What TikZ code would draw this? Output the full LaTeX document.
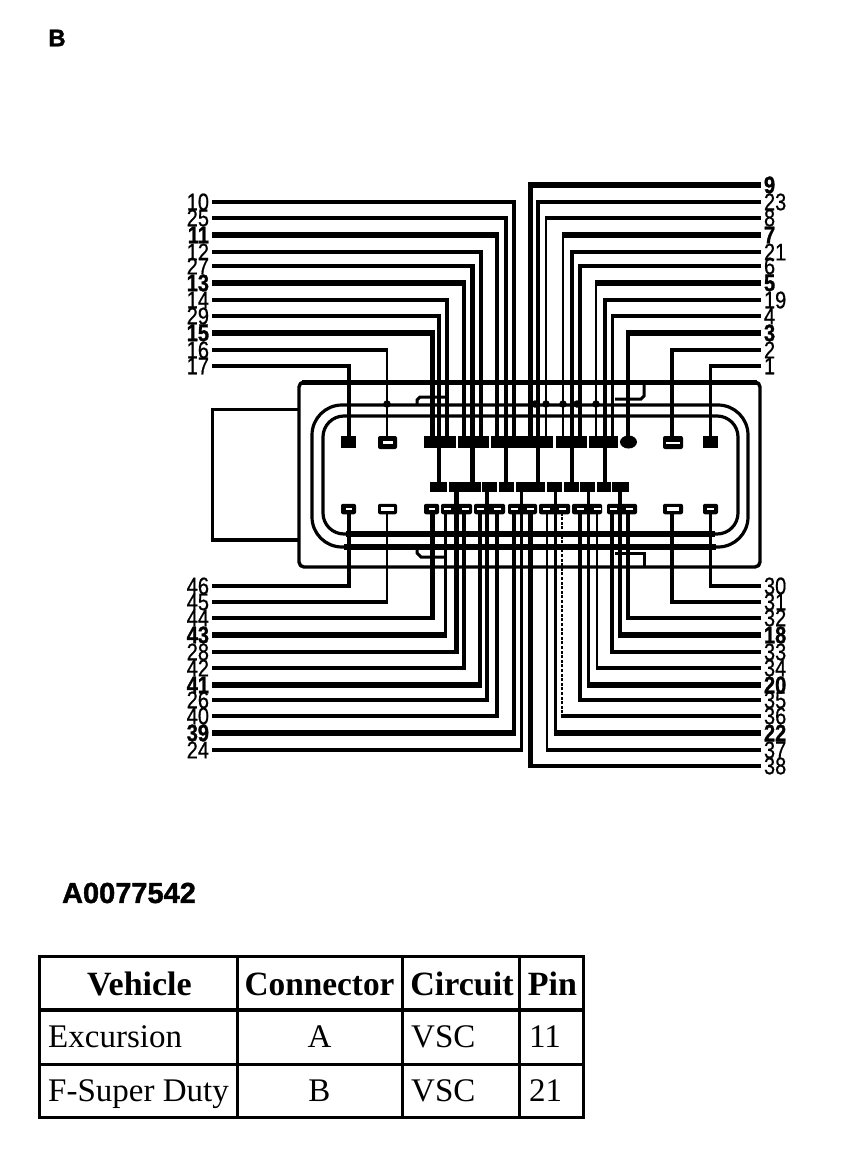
\documentclass[tikz,border=0pt]{standalone}
\usepackage{fontspec}
\setmainfont{Liberation Serif}
\newfontfamily\labfont[FakeBold=0.7]{Liberation Sans}
\newfontfamily\labheavy[FakeBold=1.4]{Liberation Sans Bold}
\usetikzlibrary{calc,shapes.geometric}
\tikzset{
  pinlab/.style={inner sep=0pt,outer sep=3pt,font=\labfont\fontsize{20}{20}\selectfont},
  block/.style={fill=black,draw=none,inner sep=0pt,outer sep=0pt,rectangle},
  roundblock/.style={block,rounded corners=2pt},
  oval/.style={fill=black,draw=none,inner sep=0pt,outer sep=0pt,ellipse},
  shell/.style={line width=3.4pt,line join=round},
  seal/.style={line width=3.2pt},
  latch/.style={line width=3pt},
  grid/.style={line width=3pt,line cap=rect},
  cellhead/.style={inner sep=0pt,anchor=base,font=\fontsize{34}{34}\selectfont\bfseries},
  cellbody/.style={inner sep=0pt,anchor=base,font=\fontsize{33}{33}\selectfont},
  title/.style={inner sep=0pt},
  vwire/.style={},
  dottedwire/.style={dash pattern=on 3pt off 1.6pt}
}
% name, label y, wire x, end y, horizontal width, vertical width, x side, y side
\newcommand\pinwire[8]{%
  \ifnum#7>0 \def\labx{212}\def\laba{east}\else \def\labx{761}\def\laba{west}\fi
  \node[pinlab,anchor=\laba] (l#1) at (\labx,#2) {\ifnum#5>4 \labheavy\fontsize{20}{20}\selectfont\fi\scalebox{1}[1.2]{#1}};
  \coordinate (p#1) at (#3,#4);
  \coordinate (c#1) at (#3,#2);
  \draw[line width=#5pt] (l#1.\laba) -- ($(c#1)+({#7*#6/2},0)$);
  \draw[line width=#6pt,vwire] ($(c#1)+(0,{#8*#5/2})$) -- (p#1);
}
\begin{document}
\begin{tikzpicture}[x=1pt,y=-1pt]
\useasboundingbox (0,0) rectangle (864,1170);
\node[title,font=\labheavy\fontsize{24}{24}\selectfont] (sheet) at (57,38) {B};
\node[title,font=\labheavy\fontsize{29}{29}\selectfont] (code) at (129,893) {A0077542};

% connector body
\draw[shell,rounded corners=5pt] (299,382) rectangle (760,567);
\draw[line width=5pt] (302,382) -- (757,382);
\draw[line width=3pt] (299,409) -- (212,409) -- (212,540);
\draw[line width=4pt] (210.5,540) -- (299,540);
% seals
\draw[seal,rounded corners=30pt] (312,405) rectangle (748,547);
\draw[seal,rounded corners=21pt] (323,416) rectangle (738,534);
\draw[line width=5.5pt] (344,547) -- (716,547);
\draw[line width=6pt] (346,534) -- (715,534);
% latches
\draw[latch] (417,405) -- (417,400) -- (420,397) -- (446,397);
\draw[latch] (615,399) -- (641,399) -- (644,396) -- (644,384);
\draw[latch] (417,547) -- (417,553) -- (421,557) -- (446,557);
\draw[latch] (615,553) -- (644,553) -- (644,567);

% wires above the connector
\foreach \n/\y/\x/\e/\h/\v in {10/202/514/442/4/4,25/218/506/487/4/4,11/235/497/442/6/4,12/252/480.7/442/4/4,27/266/472/487/4/5,13/283/464/442/6/4,14/300/446.7/442/4/4,29/316/438.7/487/4/4,15/333/432/442/6/5,16/350/387/442/4/2.5,17/366/349/442/4/4}
  {\pinwire{\n}{\y}{\x}{\e}{\h}{\v}{1}{-1}}
\foreach \n/\y/\x/\e/\h/\v in {9/185/530/442/6/5,23/202/538/487/4/4,8/218/546/442/4/2,7/235/563/442/6/2,21/252/572/487/4/4,6/266/580/442/4/4,5/283/596/442/6/2,19/300/605/487/4/4,4/316/612/442/4/3,3/333/628/442/6/4,2/350/672/442/4/4,1/366/710/442/4/3}
  {\pinwire{\n}{\y}{\x}{\e}{\h}{\v}{-1}{-1}}
% wires below the connector
\foreach \n/\y/\x/\e/\h/\v in {46/586/349/509/4/4,45/602/387/509/4/2.5,44/618/432/509/4/5,43/635/445/509/6/3,28/652/456/487/4/5,42/668/464/509/4/4,41/685/480/509/6/4,26/700/487/487/4/4,40/716/497/509/4/4,39/733/514/509/6/4,24/750/521/487/4/3}
  {\pinwire{\n}{\y}{\x}{\e}{\h}{\v}{1}{1}}
\foreach \n/\y/\x/\e/\h/\v in {30/586/710/509/4/3,31/602/672/509/4/4,32/618/628/509/4/4,18/635/620/487/6/4,33/652/612/509/4/4,34/668/597/509/4/2,20/685/588/487/6/3,35/700/580/509/4/4,22/733/555/487/6/3,37/750/546.7/509/4/2,38/766/530/509/4/5}
  {\pinwire{\n}{\y}{\x}{\e}{\h}{\v}{-1}{1}}
\begin{scope}[vwire/.style={dottedwire}]
\pinwire{36}{716}{562}{509}{4}{2.2}{-1}{1}
\end{scope}

% junction dots on the inner seal line
\foreach \i/\x in {a/387,b/535,c/546,d/563,e/577,f/596}
  \node[oval,minimum width=7.5pt,minimum height=7.5pt] (dot\i) at (\x,404) {};

% row 1 of pins
\foreach \i/\x/\w in {a/348.5/15,b/440/32,c/473.5/31,d/522/62,e/571.5/31,f/603.5/29,g/710.5/15}
  \node[block,minimum width=\w pt,minimum height=12pt] (top\i) at (\x,442) {};
\node[roundblock,minimum width=19pt,minimum height=13pt] (toph) at (387.5,442.5) {};
\node[roundblock,minimum width=20pt,minimum height=13pt] (topi) at (673,442.5) {};
\node[oval,minimum width=17pt,minimum height=13pt] (topj) at (628.5,442) {};
% row 2 of pins
\foreach \i/\x/\w in {a/438.5/17,b/465/32,c/489.5/15,d/506.5/15,e/523/14,f/537.5/15,g/554.5/15,h/571.5/15,i/587.5/15,j/604/14,k/620.5/17}
  \node[block,minimum width=\w pt,minimum height=10pt] (mid\i) at (\x,487) {};
% row 3 of pins
\foreach \i/\x/\w in {a/348.5/15,b/387.5/19,c/431.5/15,d/456.5/31,e/489.5/31,f/522.5/29,g/554.5/31,h/587/30,i/622/30,j/673/20,k/710.5/15}
  \node[roundblock,minimum width=\w pt,minimum height=10.5pt] (low\i) at (\x,509) {};

% slits of the open pins
\foreach \x/\y/\w/\t in {387.5/442.5/10/2.5,673/443/14/2.5,348.5/508.5/6/2,387.5/509/13/4.5,431.5/508.5/6/2,447/508.5/7/2,465/508.5/7/2,480/508.5/7/2,497/508.5/7/2,514/508.5/7/2,530/508.5/7/2,546/508.5/7/2,562/508.5/7/2,580/508.5/7/2,597/508.5/7/2,613/508.5/7/2,629/508.5/7/2,673/509/12/4,710.5/508.5/7/2}
  \fill[white] ({\x-\w/2},{\y-\t/2}) rectangle ({\x+\w/2},{\y+\t/2});

% table
\draw[grid] (39,956) rectangle (583,1117);
\draw[line width=4pt] (39,1010) -- (583,1010);
\draw[line width=3pt] (39,1064) -- (583,1064);
\foreach \x in {237,402,519} \draw[line width=3pt] (\x,956) -- (\x,1117);
\node[cellhead] (hveh) at (139.5,995) {Vehicle};
\node[cellhead] (hcon) at (319.5,995) {\scalebox{0.98}[1]{Connector}};
\node[cellhead] (hcir) at (462,995) {Circuit};
\node[cellhead] (hpin) at (552.5,995) {Pin};
\node[cellbody,anchor=base west] (v1) at (48,1047) {Excursion};
\node[cellbody] (c1) at (319.5,1047) {A};
\node[cellbody,anchor=base west] (r1) at (411,1047) {VSC};
\node[cellbody,anchor=base west] (n1) at (529,1047) {11};
\node[cellbody,anchor=base west] (v2) at (48,1101) {F-Super Duty};
\node[cellbody] (c2) at (319.5,1101) {B};
\node[cellbody,anchor=base west] (r2) at (411,1101) {VSC};
\node[cellbody,anchor=base west] (n2) at (529,1101) {21};
\end{tikzpicture}
\end{document}
